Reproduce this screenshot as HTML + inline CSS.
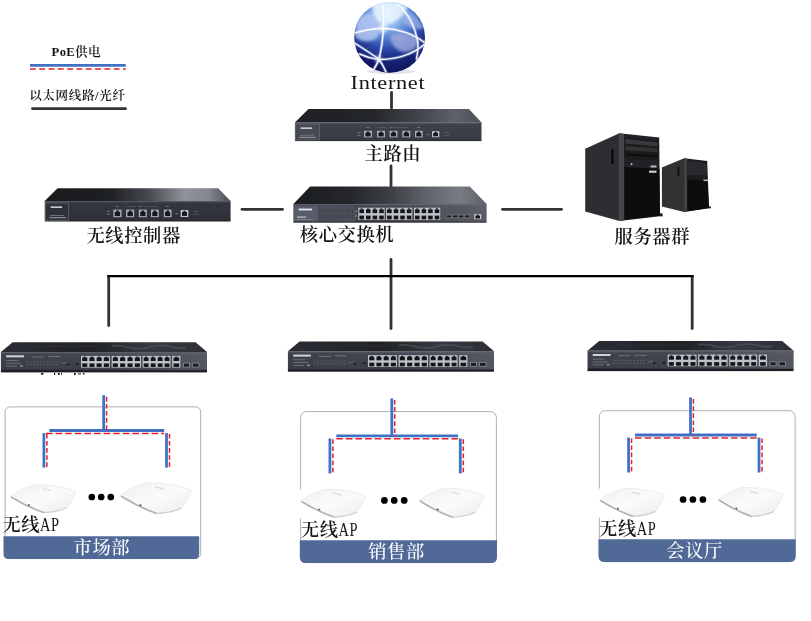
<!DOCTYPE html>
<html lang="zh-CN">
<head>
<meta charset="utf-8">
<title>无线网络拓扑图</title>
<style>
html,body{margin:0;padding:0;background:#fff;}
body{width:811px;height:621px;overflow:hidden;position:relative;}
svg{position:absolute;left:0;top:0;display:block;will-change:transform;}
text{font-family:"Liberation Serif","Noto Serif CJK SC",serif;fill:#141414;}
.cjk{font-size:18.3px;letter-spacing:0.6px;font-weight:600;}
.ap{font-size:18px;letter-spacing:0.8px;}
.w{fill:#fff;font-weight:500;}
</style>
</head>
<body>
<svg width="811" height="621" viewBox="0 0 811 621">
<defs>
  <filter id="soft" x="-5%" y="-20%" width="110%" height="140%"><feGaussianBlur stdDeviation="0.45"/></filter>
  <filter id="soft2" x="-5%" y="-5%" width="110%" height="110%"><feGaussianBlur stdDeviation="0.6"/></filter>
  <linearGradient id="gTopR" x1="0" y1="0" x2="1" y2="0">
    <stop offset="0" stop-color="#1f2024"/><stop offset="0.42" stop-color="#25272b"/><stop offset="0.68" stop-color="#44474e"/><stop offset="0.86" stop-color="#5e6169"/><stop offset="1" stop-color="#4c4f56"/>
  </linearGradient>
  <linearGradient id="gTopC" x1="0" y1="0" x2="1" y2="0">
    <stop offset="0" stop-color="#18191c"/><stop offset="0.35" stop-color="#202125"/><stop offset="0.55" stop-color="#44464c"/><stop offset="0.75" stop-color="#8e9197"/><stop offset="0.88" stop-color="#84878e"/><stop offset="1" stop-color="#4a4d54"/>
  </linearGradient>
  <linearGradient id="gTopS" x1="0" y1="0" x2="1" y2="0">
    <stop offset="0" stop-color="#1b1c20"/><stop offset="0.3" stop-color="#26282c"/><stop offset="0.52" stop-color="#404248"/><stop offset="0.7" stop-color="#62656c"/><stop offset="0.86" stop-color="#787b82"/><stop offset="1" stop-color="#5e6168"/>
  </linearGradient>
  <linearGradient id="gTopA" x1="0" y1="0" x2="1" y2="0">
    <stop offset="0" stop-color="#2b2d33"/><stop offset="0.45" stop-color="#212327"/><stop offset="0.72" stop-color="#363940"/><stop offset="1" stop-color="#2c2e34"/>
  </linearGradient>
  <linearGradient id="gFrontR" x1="0" y1="0" x2="0" y2="1">
    <stop offset="0" stop-color="#474b54"/><stop offset="0.15" stop-color="#3d4049"/><stop offset="0.9" stop-color="#393c45"/><stop offset="1" stop-color="#26272c"/>
  </linearGradient>
  <linearGradient id="gFrontC" x1="0" y1="0" x2="0" y2="1">
    <stop offset="0" stop-color="#41444c"/><stop offset="0.15" stop-color="#33363d"/><stop offset="0.9" stop-color="#2e3138"/><stop offset="1" stop-color="#1f2024"/>
  </linearGradient>
  <linearGradient id="gFrontA" x1="0" y1="0" x2="0" y2="1">
    <stop offset="0" stop-color="#4b4f5a"/><stop offset="0.15" stop-color="#3d414b"/><stop offset="0.84" stop-color="#383c46"/><stop offset="0.92" stop-color="#1b1c20"/><stop offset="1" stop-color="#1b1c20"/>
  </linearGradient>
  <linearGradient id="gShine" x1="0" y1="0" x2="1" y2="0">
    <stop offset="0" stop-color="#fff" stop-opacity="0"/><stop offset="0.5" stop-color="#fff" stop-opacity="0.03"/><stop offset="1" stop-color="#fff" stop-opacity="0.13"/>
  </linearGradient>
  <linearGradient id="gShine2" x1="0" y1="0" x2="1" y2="0">
    <stop offset="0" stop-color="#fff" stop-opacity="0"/><stop offset="0.55" stop-color="#fff" stop-opacity="0.04"/><stop offset="1" stop-color="#fff" stop-opacity="0.17"/>
  </linearGradient>
  <radialGradient id="gGlobe" cx="0.47" cy="0.16" r="0.9">
    <stop offset="0" stop-color="#e6f3ff"/><stop offset="0.16" stop-color="#a4c8f6"/><stop offset="0.36" stop-color="#5b86d6"/><stop offset="0.56" stop-color="#2b49a8"/><stop offset="0.74" stop-color="#17247a"/><stop offset="1" stop-color="#0c1150"/>
  </radialGradient>
  <clipPath id="cGlobe"><circle cx="389.6" cy="37.4" r="35.4"/></clipPath>
  <filter id="soft3" x="-20%" y="-20%" width="140%" height="140%"><feGaussianBlur stdDeviation="1.6"/></filter>
  <linearGradient id="gAP" x1="0" y1="0" x2="1" y2="1">
    <stop offset="0" stop-color="#f0f0f0"/><stop offset="0.5" stop-color="#fbfbfb"/><stop offset="1" stop-color="#ebebeb"/>
  </linearGradient>
  <g id="ap">
    <path d="M1,12.5 C6,8 17,2.5 25,1 C38,0 56,3.5 66,7.5 C64,13 60,20 57,23.5 C50,26.5 40,28.5 34,28.5 C22,24 8,17 1,12.5 Z" fill="url(#gAP)" stroke="#e9e9e9" stroke-width="0.8"/>
    <path d="M2,13.2 C9,17.5 22,24.5 34,28.6" stroke="#b2b2b2" stroke-width="1.6" fill="none" stroke-linecap="round"/>
    <path d="M34,28.6 C42,28.4 50,27 57,23.8" stroke="#d0d0d0" stroke-width="1.2" fill="none"/>
    <rect x="18.2" y="20.2" width="2" height="1.4" fill="#555" transform="rotate(28 19 21)"/>
    <path d="M33,4.5 L41,6.5" stroke="#dadada" stroke-width="1.2"/>
  </g>
</defs>
<rect x="0" y="0" width="811" height="621" fill="#fff"/>

<!-- legend -->
<text x="51.6" y="56" font-size="12.6" letter-spacing="0.35" font-weight="600"><tspan font-weight="bold">PoE</tspan>供电</text>
<path d="M30,65.4 H125.8" stroke="#4171c4" stroke-width="2.8"/>
<path d="M30,69.1 H125.8" stroke="#e3202b" stroke-width="1.5" stroke-dasharray="5.8 3.5"/>
<text x="29.2" y="100" font-size="12.5" letter-spacing="0.68" font-weight="600">以太网线路/光纤</text>
<path d="M32.5,108.7 H125.5" stroke="#333" stroke-width="2.8" stroke-linecap="round"/>

<!-- internet globe -->
<g>
  <ellipse cx="391" cy="71.5" rx="24" ry="2.6" fill="#cfd3e2" opacity="0.6"/>
  <circle cx="389.6" cy="37.4" r="35.4" fill="url(#gGlobe)"/>
  <g clip-path="url(#cGlobe)">
    <g filter="url(#soft3)">
      <path d="M356,22 C361,13 372,11 380,15 C383,22 382,31 377,38 C370,43 361,42 355,37 Z" fill="#b4c8f2" opacity="0.85"/>
      <path d="M390,36 C397,31 410,33 418,38 C420,45 414,52 405,52 C398,52 391,46 390,36 Z" fill="#a3addd" opacity="0.8"/>
      <path d="M402,12 C410,10 420,18 424,28 C418,31 408,28 403,22 Z" fill="#9fb9ec" opacity="0.7"/>
      <path d="M372,3 C380,0 398,0 408,6 C404,16 394,24 384,25 C376,22 372,12 372,3 Z" fill="#e8f4ff" opacity="0.85"/>
      <path d="M352,46 C362,58 380,70 396,74 L352,76 Z" fill="#0e145a" opacity="0.7"/>
      <path d="M396,74 C410,70 420,62 426,50 L428,76 Z" fill="#0e145a" opacity="0.65"/>
    </g>
    <g stroke="#cfe2ff" stroke-width="3.2" fill="none" opacity="0.35" stroke-linecap="round">
      <path d="M383,5 C384.5,22 383,42 379.4,57.5 C378,62 376,66 374,69"/>
      <path d="M397,4 C407,12 415,26 417.9,42.8 C418.5,50 417.5,54 416.5,59"/>
      <path d="M354,33.2 C364,30 374,28.4 383,28.2 C398,28.6 414,34 425,43"/>
      <path d="M354,42.5 C362,48 372,54 378.2,58.8 C381,62 384,67 386,72"/>
      <path d="M359.5,54 C366,57 372,58.6 378.2,59.4 C396,60 414,54 424.7,44"/>
    </g>
    <g stroke="#ffffff" stroke-width="1.4" fill="none" opacity="0.95" stroke-linecap="round">
      <path d="M383,5 C384.5,22 383,42 379.4,57.5 C378,62 376,66 374,69"/>
      <path d="M397,4 C407,12 415,26 417.9,42.8 C418.5,50 417.5,54 416.5,59"/>
      <path d="M354,33.2 C364,30 374,28.4 383,28.2 C398,28.6 414,34 425,43"/>
      <path d="M354,42.5 C362,48 372,54 378.2,58.8 C381,62 384,67 386,72"/>
      <path d="M359.5,54 C366,57 372,58.6 378.2,59.4 C396,60 414,54 424.7,44"/>
    </g>
    <circle cx="383.4" cy="28.2" r="4.5" fill="#fff" opacity="0.55" filter="url(#soft3)"/>
    <circle cx="378.4" cy="59" r="3.5" fill="#fff" opacity="0.5" filter="url(#soft3)"/>
  </g>
</g>
<text transform="translate(350.6,88.6) scale(1.2,1)" font-size="18.6" letter-spacing="0.55">Internet</text>

<!-- backbone links -->
<g stroke="#333" stroke-width="2.8" fill="none" stroke-linecap="round">
  <path d="M391.5,92.5 V108"/>
  <path d="M391,166 V186"/>
  <path d="M391,259.5 V328.5"/>
  <path d="M242,209.3 H282.5"/>
  <path d="M502.5,209.3 H561.5"/>
  <path d="M108.7,277 V325.5"/>
  <path d="M692.2,277 V328.5"/>
</g>
<path d="M107.2,276.2 H693.7" stroke="#000" stroke-width="2.2" fill="none"/>

<!-- main router -->
<g filter="url(#soft)"><polygon points="308.5,108.9 468.9,108.9 481.5,122.5 294.9,122.5" fill="url(#gTopR)" /><rect x="294.9" y="122.5" width="186.6" height="18.6" fill="url(#gFrontR)" /><rect x="294.9" y="122.5" width="186.6" height="1.0" fill="#5a5e67" opacity="0.8"/><rect x="295.6" y="124.0" width="24.0" height="16.0" fill="#454851" stroke="#73767e" stroke-width="0.6"/><rect x="300.6" y="127.4" width="11.5" height="1.5" fill="#d5d7dc" /><rect x="300.1" y="134.8" width="14.0" height="1.0" fill="#6f727a" /><rect x="299.1" y="136.8" width="17.0" height="1.2" fill="#8a8d95" /><rect x="364.0" y="130.8" width="8.0" height="6.6" fill="#a9adb5" /><rect x="365.4" y="132.8" width="5.3" height="3.6" fill="#17181b" /><rect x="366.7" y="131.6" width="2.6" height="1.6" fill="#17181b" /><rect x="377.0" y="130.8" width="8.0" height="6.6" fill="#a9adb5" /><rect x="378.4" y="132.8" width="5.3" height="3.6" fill="#17181b" /><rect x="379.7" y="131.6" width="2.6" height="1.6" fill="#17181b" /><rect x="389.6" y="130.8" width="7.8" height="6.6" fill="#a9adb5" /><rect x="390.9" y="132.8" width="5.1" height="3.6" fill="#17181b" /><rect x="392.3" y="131.6" width="2.5" height="1.6" fill="#17181b" /><rect x="402.3" y="130.8" width="8.0" height="6.6" fill="#a9adb5" /><rect x="403.7" y="132.8" width="5.3" height="3.6" fill="#17181b" /><rect x="405.0" y="131.6" width="2.6" height="1.6" fill="#17181b" /><rect x="415.0" y="130.8" width="7.6" height="6.6" fill="#a9adb5" /><rect x="416.3" y="132.8" width="5.0" height="3.6" fill="#17181b" /><rect x="417.6" y="131.6" width="2.4" height="1.6" fill="#17181b" /><rect x="366.0" y="127.2" width="3.4" height="0.7" fill="#7c808a" /><rect x="377.5" y="127.2" width="9.0" height="0.6" fill="#62666f" /><rect x="389.6" y="127.2" width="3.4" height="0.7" fill="#7c808a" /><rect x="394.6" y="127.2" width="14.0" height="0.6" fill="#62666f" /><rect x="417.0" y="127.2" width="3.0" height="0.7" fill="#7c808a" /><rect x="357.5" y="132.0" width="3.0" height="0.9" fill="#7d8089" /><rect x="357.5" y="134.8" width="3.0" height="0.9" fill="#7d8089" /><rect x="426.5" y="133.9" width="2.6" height="0.9" fill="#7d8089" /><rect x="432.0" y="131.2" width="7.3" height="6.0" fill="#c3c6cc" /><rect x="433.2" y="133.0" width="4.8" height="3.3" fill="#17181b" /><rect x="434.5" y="131.9" width="2.3" height="1.5" fill="#17181b" /><rect x="443.8" y="132.4" width="6.0" height="0.7" fill="#5d6068" /><rect x="443.8" y="135.0" width="6.0" height="0.7" fill="#5d6068" /></g>
<text class="cjk" x="364.6" y="160.2">主路由</text>

<!-- wireless controller -->
<g filter="url(#soft)"><polygon points="57.6,188.2 218.2,188.2 230.6,201.0 44.7,201.0" fill="url(#gTopC)" /><rect x="44.7" y="201.0" width="185.9" height="20.5" fill="url(#gFrontC)" /><rect x="44.7" y="201.0" width="185.9" height="1.0" fill="#5a5e67" opacity="0.8"/><rect x="45.6" y="203.0" width="22.7" height="17.2" fill="#2f3239" stroke="#73767e" stroke-width="0.6"/><rect x="50.6" y="206.4" width="11.5" height="1.5" fill="#d5d7dc" /><rect x="50.1" y="215.0" width="14.0" height="1.0" fill="#6f727a" /><rect x="49.1" y="217.0" width="17.0" height="1.2" fill="#8a8d95" /><rect x="113.4" y="209.6" width="8.1" height="7.6" fill="#a9adb5" /><rect x="114.8" y="211.9" width="5.3" height="4.2" fill="#17181b" /><rect x="116.2" y="210.5" width="2.6" height="1.9" fill="#17181b" /><rect x="126.1" y="209.6" width="8.1" height="7.6" fill="#a9adb5" /><rect x="127.5" y="211.9" width="5.3" height="4.2" fill="#17181b" /><rect x="128.9" y="210.5" width="2.6" height="1.9" fill="#17181b" /><rect x="138.8" y="209.6" width="8.1" height="7.6" fill="#a9adb5" /><rect x="140.2" y="211.9" width="5.3" height="4.2" fill="#17181b" /><rect x="141.6" y="210.5" width="2.6" height="1.9" fill="#17181b" /><rect x="151.0" y="209.6" width="7.8" height="7.6" fill="#a9adb5" /><rect x="152.3" y="211.9" width="5.1" height="4.2" fill="#17181b" /><rect x="153.7" y="210.5" width="2.5" height="1.9" fill="#17181b" /><rect x="163.8" y="209.6" width="7.8" height="7.6" fill="#a9adb5" /><rect x="165.1" y="211.9" width="5.1" height="4.2" fill="#17181b" /><rect x="166.5" y="210.5" width="2.5" height="1.9" fill="#17181b" /><rect x="115.4" y="206.0" width="3.4" height="0.7" fill="#7c808a" /><rect x="126.6" y="206.0" width="9.0" height="0.6" fill="#62666f" /><rect x="138.8" y="206.0" width="3.4" height="0.7" fill="#7c808a" /><rect x="143.8" y="206.0" width="14.0" height="0.6" fill="#62666f" /><rect x="165.8" y="206.0" width="3.0" height="0.7" fill="#7c808a" /><rect x="106.9" y="210.8" width="3.0" height="0.9" fill="#7d8089" /><rect x="106.9" y="213.6" width="3.0" height="0.9" fill="#7d8089" /><rect x="175.2" y="213.2" width="2.6" height="0.9" fill="#7d8089" /><rect x="180.7" y="210.0" width="7.6" height="7.0" fill="#c3c6cc" /><rect x="182.0" y="212.1" width="5.0" height="3.8" fill="#17181b" /><rect x="183.3" y="210.8" width="2.4" height="1.7" fill="#17181b" /><rect x="192.8" y="211.2" width="6.0" height="0.7" fill="#5d6068" /><rect x="192.8" y="213.8" width="6.0" height="0.7" fill="#5d6068" /></g>
<text class="cjk" x="86.4" y="242.4">无线控制器</text>

<!-- core switch -->
<g filter="url(#soft)"><polygon points="310.1,186.5 469.8,186.5 486.6,204.0 293.4,204.0" fill="url(#gTopS)" /><rect x="293.4" y="204.0" width="193.2" height="18.7" fill="url(#gFrontR)" /><rect x="293.4" y="204.0" width="193.2" height="17.6" fill="url(#gShine2)" /><rect x="293.4" y="204.0" width="193.2" height="1.0" fill="#636771" opacity="0.9"/><rect x="294.0" y="205.8" width="24.2" height="15.6" fill="#565b67" /><rect x="298.6" y="208.6" width="13.5" height="1.8" fill="#e6e8ec" /><rect x="297.0" y="216.4" width="9.0" height="1.4" fill="#b3b7bf" /><rect x="297.0" y="219.0" width="16.0" height="0.9" fill="#7d818a" /><rect x="318.9" y="205.8" width="36.7" height="15.6" fill="#4c505a" /><rect x="321.0" y="209.0" width="1.5" height="4.2" fill="#424650" /><rect x="321.0" y="215.0" width="1.5" height="4.2" fill="#424650" /><rect x="324.1" y="209.0" width="1.5" height="4.2" fill="#424650" /><rect x="324.1" y="215.0" width="1.5" height="4.2" fill="#424650" /><rect x="327.2" y="209.0" width="1.5" height="4.2" fill="#424650" /><rect x="327.2" y="215.0" width="1.5" height="4.2" fill="#424650" /><rect x="330.3" y="209.0" width="1.5" height="4.2" fill="#424650" /><rect x="330.3" y="215.0" width="1.5" height="4.2" fill="#424650" /><rect x="333.4" y="209.0" width="1.5" height="4.2" fill="#424650" /><rect x="333.4" y="215.0" width="1.5" height="4.2" fill="#424650" /><rect x="336.5" y="209.0" width="1.5" height="4.2" fill="#424650" /><rect x="336.5" y="215.0" width="1.5" height="4.2" fill="#424650" /><rect x="339.6" y="209.0" width="1.5" height="4.2" fill="#424650" /><rect x="339.6" y="215.0" width="1.5" height="4.2" fill="#424650" /><rect x="342.7" y="209.0" width="1.5" height="4.2" fill="#424650" /><rect x="342.7" y="215.0" width="1.5" height="4.2" fill="#424650" /><rect x="345.8" y="209.0" width="1.5" height="4.2" fill="#424650" /><rect x="345.8" y="215.0" width="1.5" height="4.2" fill="#424650" /><rect x="348.9" y="209.0" width="1.5" height="4.2" fill="#424650" /><rect x="348.9" y="215.0" width="1.5" height="4.2" fill="#424650" /><rect x="352.0" y="209.0" width="1.5" height="4.2" fill="#424650" /><rect x="352.0" y="215.0" width="1.5" height="4.2" fill="#424650" /><rect x="355.2" y="210.6" width="1.6" height="1.1" fill="#a8acb4" /><rect x="355.2" y="215.4" width="1.6" height="1.1" fill="#a8acb4" /><rect x="358.3" y="207.7" width="26.4" height="12.3" fill="#bfc3c9" /><rect x="359.4" y="209.4" width="4.6" height="3.7" fill="#16171a" /><rect x="360.5" y="208.4" width="2.1" height="1.2" fill="#16171a" /><rect x="359.4" y="215.6" width="4.6" height="3.7" fill="#16171a" /><rect x="360.5" y="218.0" width="2.1" height="1.2" fill="#16171a" /><rect x="366.0" y="209.4" width="4.6" height="3.7" fill="#16171a" /><rect x="367.1" y="208.4" width="2.1" height="1.2" fill="#16171a" /><rect x="366.0" y="215.6" width="4.6" height="3.7" fill="#16171a" /><rect x="367.1" y="218.0" width="2.1" height="1.2" fill="#16171a" /><rect x="372.6" y="209.4" width="4.6" height="3.7" fill="#16171a" /><rect x="373.7" y="208.4" width="2.1" height="1.2" fill="#16171a" /><rect x="372.6" y="215.6" width="4.6" height="3.7" fill="#16171a" /><rect x="373.7" y="218.0" width="2.1" height="1.2" fill="#16171a" /><rect x="379.2" y="209.4" width="4.6" height="3.7" fill="#16171a" /><rect x="380.3" y="208.4" width="2.1" height="1.2" fill="#16171a" /><rect x="379.2" y="215.6" width="4.6" height="3.7" fill="#16171a" /><rect x="380.3" y="218.0" width="2.1" height="1.2" fill="#16171a" /><rect x="386.1" y="207.7" width="26.2" height="12.3" fill="#bfc3c9" /><rect x="387.1" y="209.4" width="4.6" height="3.7" fill="#16171a" /><rect x="388.3" y="208.4" width="2.1" height="1.2" fill="#16171a" /><rect x="387.1" y="215.6" width="4.6" height="3.7" fill="#16171a" /><rect x="388.3" y="218.0" width="2.1" height="1.2" fill="#16171a" /><rect x="393.7" y="209.4" width="4.6" height="3.7" fill="#16171a" /><rect x="394.9" y="208.4" width="2.1" height="1.2" fill="#16171a" /><rect x="393.7" y="215.6" width="4.6" height="3.7" fill="#16171a" /><rect x="394.9" y="218.0" width="2.1" height="1.2" fill="#16171a" /><rect x="400.2" y="209.4" width="4.6" height="3.7" fill="#16171a" /><rect x="401.4" y="208.4" width="2.1" height="1.2" fill="#16171a" /><rect x="400.2" y="215.6" width="4.6" height="3.7" fill="#16171a" /><rect x="401.4" y="218.0" width="2.1" height="1.2" fill="#16171a" /><rect x="406.8" y="209.4" width="4.6" height="3.7" fill="#16171a" /><rect x="408.0" y="208.4" width="2.1" height="1.2" fill="#16171a" /><rect x="406.8" y="215.6" width="4.6" height="3.7" fill="#16171a" /><rect x="408.0" y="218.0" width="2.1" height="1.2" fill="#16171a" /><rect x="414.0" y="207.7" width="26.2" height="12.3" fill="#bfc3c9" /><rect x="415.0" y="209.4" width="4.6" height="3.7" fill="#16171a" /><rect x="416.2" y="208.4" width="2.1" height="1.2" fill="#16171a" /><rect x="415.0" y="215.6" width="4.6" height="3.7" fill="#16171a" /><rect x="416.2" y="218.0" width="2.1" height="1.2" fill="#16171a" /><rect x="421.6" y="209.4" width="4.6" height="3.7" fill="#16171a" /><rect x="422.8" y="208.4" width="2.1" height="1.2" fill="#16171a" /><rect x="421.6" y="215.6" width="4.6" height="3.7" fill="#16171a" /><rect x="422.8" y="218.0" width="2.1" height="1.2" fill="#16171a" /><rect x="428.1" y="209.4" width="4.6" height="3.7" fill="#16171a" /><rect x="429.3" y="208.4" width="2.1" height="1.2" fill="#16171a" /><rect x="428.1" y="215.6" width="4.6" height="3.7" fill="#16171a" /><rect x="429.3" y="218.0" width="2.1" height="1.2" fill="#16171a" /><rect x="434.7" y="209.4" width="4.6" height="3.7" fill="#16171a" /><rect x="435.9" y="208.4" width="2.1" height="1.2" fill="#16171a" /><rect x="434.7" y="215.6" width="4.6" height="3.7" fill="#16171a" /><rect x="435.9" y="218.0" width="2.1" height="1.2" fill="#16171a" /><rect x="446.0" y="214.6" width="24.4" height="3.6" fill="#787c85" /><rect x="446.8" y="215.4" width="4.6" height="2.0" fill="#1c1d21" /><rect x="452.8" y="215.4" width="4.6" height="2.0" fill="#1c1d21" /><rect x="458.8" y="215.4" width="4.6" height="2.0" fill="#1c1d21" /><rect x="464.8" y="215.4" width="4.6" height="2.0" fill="#1c1d21" /><rect x="474.2" y="214.2" width="7.0" height="5.0" fill="#c6c9cf" /><rect x="475.4" y="215.7" width="4.6" height="2.8" fill="#17181b" /><rect x="476.6" y="214.8" width="2.2" height="1.2" fill="#17181b" /></g>
<text class="cjk" x="299.8" y="240.8">核心交换机</text>

<!-- servers -->
<g filter="url(#soft)">
  <polygon points="585.2,148.8 619.4,133.3 619.4,221 585.2,211.6" fill="#2f2f31"/>
  <polygon points="619.4,133.3 659.2,137.6 660,216.2 619.4,221" fill="#242426"/>
  <polygon points="619.4,133.3 624,133.9 624,220.4 619.4,221" fill="#444446"/>
  <polygon points="624.5,136.5 658.6,140.5 658.8,160.5 624.5,159.2" fill="#1a1a1c"/>
  <polygon points="625.5,139 657.6,142.6 657.6,146.4 625.5,143.4" fill="#39393c"/>
  <polygon points="625.5,146 657.6,148.6 657.6,152.2 625.5,150.2" fill="#323235"/>
  <polygon points="625.5,153.4 657.6,155.2 657.6,156.8 625.5,155.4" fill="#0b0b0c"/>
  <polygon points="624.5,167 659.4,168.8 660,215.6 624.5,219.8" fill="#0e0e10"/>
  <rect x="650.5" y="165.5" width="6" height="2" fill="#b7bac2"/>
  <rect x="649" y="170.6" width="7.5" height="2.2" fill="#c9ccd3"/>
  <rect x="611" y="149" width="2.6" height="15" rx="1.2" fill="#0a0a0b"/>
  <circle cx="631.6" cy="164.2" r="0.9" fill="#d7dae0"/>
  <rect x="660" y="213.4" width="2.6" height="3" fill="#1a1a1c"/>
  <polygon points="661.9,167.5 684.1,158.3 684.1,211.9 661.9,206.4" fill="#303032"/>
  <polygon points="684.1,158.3 707.2,161 709,208.2 684.1,211.9" fill="#1c1c1e"/>
  <polygon points="684.1,158.3 687,158.7 687,211.5 684.1,211.9" fill="#434346"/>
  <polygon points="687.5,161 706.6,163.3 706.9,175.5 687.5,174.8" fill="#2c2c2f"/>
  <polygon points="687.5,179.5 707.4,180.4 709,208 687.5,211.2" fill="#0d0d0f"/>
  <rect x="677.6" y="167" width="1.6" height="9.6" rx="0.8" fill="#0a0a0b"/>
  <rect x="703.5" y="179.5" width="4.5" height="1.6" fill="#b7bac2"/>
  <rect x="709" y="206.4" width="1.8" height="2" fill="#1a1a1c"/>
</g>
<text class="cjk" x="614.6" y="243.4">服务器群</text>

<!-- access switches -->
<g filter="url(#soft)"><g transform="translate(0.0,0.0)"><polygon points="12.6,342.2 195.6,342.2 207.0,352.0 0.9,352.0" fill="url(#gTopA)" /><path d="M112,346 C124,344 130,350 142,348.5 S154,344.5 164,345.5 S176,349.5 186,347.5" stroke="#4d5058" stroke-width="1.8" fill="none" opacity="0.75"/><path d="M30,346.5 H100" stroke="#33363c" stroke-width="1.2" opacity="0.6"/><rect x="0.9" y="352.0" width="206.1" height="20.4" fill="url(#gFrontA)" /><rect x="0.9" y="352.0" width="206.1" height="18.4" fill="url(#gShine)" /><rect x="0.9" y="352.0" width="206.1" height="1.0" fill="#5d616b" opacity="0.9"/><rect x="6.1" y="355.3" width="17.8" height="2.0" fill="#cfd2d8" /><rect x="6.1" y="360.0" width="12.0" height="0.9" fill="#70747d" /><rect x="6.1" y="362.8" width="15.0" height="0.9" fill="#70747d" /><rect x="6.1" y="365.6" width="11.0" height="0.9" fill="#70747d" /><rect x="20.0" y="365.4" width="3.0" height="1.2" fill="#9a9ea6" /><rect x="32.0" y="356.6" width="12.0" height="0.8" fill="#7a7e87" /><rect x="48.0" y="356.2" width="12.0" height="0.8" fill="#7a7e87" /><rect x="26.0" y="360.2" width="34.0" height="6.2" fill="#3f434c" /><rect x="27.0" y="361.2" width="1.6" height="1.2" fill="#565a63" /><rect x="27.0" y="364.0" width="1.6" height="1.2" fill="#565a63" /><rect x="30.3" y="361.2" width="1.6" height="1.2" fill="#565a63" /><rect x="30.3" y="364.0" width="1.6" height="1.2" fill="#565a63" /><rect x="33.6" y="361.2" width="1.6" height="1.2" fill="#565a63" /><rect x="33.6" y="364.0" width="1.6" height="1.2" fill="#565a63" /><rect x="36.9" y="361.2" width="1.6" height="1.2" fill="#565a63" /><rect x="36.9" y="364.0" width="1.6" height="1.2" fill="#565a63" /><rect x="40.2" y="361.2" width="1.6" height="1.2" fill="#565a63" /><rect x="40.2" y="364.0" width="1.6" height="1.2" fill="#565a63" /><rect x="43.5" y="361.2" width="1.6" height="1.2" fill="#565a63" /><rect x="43.5" y="364.0" width="1.6" height="1.2" fill="#565a63" /><rect x="46.8" y="361.2" width="1.6" height="1.2" fill="#565a63" /><rect x="46.8" y="364.0" width="1.6" height="1.2" fill="#565a63" /><rect x="50.1" y="361.2" width="1.6" height="1.2" fill="#565a63" /><rect x="50.1" y="364.0" width="1.6" height="1.2" fill="#565a63" /><rect x="53.4" y="361.2" width="1.6" height="1.2" fill="#565a63" /><rect x="53.4" y="364.0" width="1.6" height="1.2" fill="#565a63" /><rect x="56.7" y="361.2" width="1.6" height="1.2" fill="#565a63" /><rect x="56.7" y="364.0" width="1.6" height="1.2" fill="#565a63" /><rect x="61.0" y="362.0" width="7.0" height="2.2" fill="#4f535c" /><rect x="66.5" y="363.6" width="2.2" height="1.6" fill="#0e0f11" /><rect x="76.3" y="363.2" width="2.2" height="1.6" fill="#0e0f11" /><rect x="81.0" y="355.9" width="28.9" height="11.7" fill="#bfc3c9" /><rect x="82.2" y="357.5" width="5.1" height="3.5" fill="#16171a" /><rect x="83.5" y="356.6" width="2.3" height="1.2" fill="#16171a" /><rect x="82.2" y="363.4" width="5.1" height="3.5" fill="#16171a" /><rect x="83.5" y="365.7" width="2.3" height="1.2" fill="#16171a" /><rect x="89.4" y="357.5" width="5.1" height="3.5" fill="#16171a" /><rect x="90.7" y="356.6" width="2.3" height="1.2" fill="#16171a" /><rect x="89.4" y="363.4" width="5.1" height="3.5" fill="#16171a" /><rect x="90.7" y="365.7" width="2.3" height="1.2" fill="#16171a" /><rect x="96.6" y="357.5" width="5.1" height="3.5" fill="#16171a" /><rect x="97.9" y="356.6" width="2.3" height="1.2" fill="#16171a" /><rect x="96.6" y="363.4" width="5.1" height="3.5" fill="#16171a" /><rect x="97.9" y="365.7" width="2.3" height="1.2" fill="#16171a" /><rect x="103.8" y="357.5" width="5.1" height="3.5" fill="#16171a" /><rect x="105.1" y="356.6" width="2.3" height="1.2" fill="#16171a" /><rect x="103.8" y="363.4" width="5.1" height="3.5" fill="#16171a" /><rect x="105.1" y="365.7" width="2.3" height="1.2" fill="#16171a" /><rect x="111.6" y="355.9" width="29.4" height="11.7" fill="#bfc3c9" /><rect x="112.8" y="357.5" width="5.1" height="3.5" fill="#16171a" /><rect x="114.1" y="356.6" width="2.4" height="1.2" fill="#16171a" /><rect x="112.8" y="363.4" width="5.1" height="3.5" fill="#16171a" /><rect x="114.1" y="365.7" width="2.4" height="1.2" fill="#16171a" /><rect x="120.1" y="357.5" width="5.1" height="3.5" fill="#16171a" /><rect x="121.4" y="356.6" width="2.4" height="1.2" fill="#16171a" /><rect x="120.1" y="363.4" width="5.1" height="3.5" fill="#16171a" /><rect x="121.4" y="365.7" width="2.4" height="1.2" fill="#16171a" /><rect x="127.5" y="357.5" width="5.1" height="3.5" fill="#16171a" /><rect x="128.8" y="356.6" width="2.4" height="1.2" fill="#16171a" /><rect x="127.5" y="363.4" width="5.1" height="3.5" fill="#16171a" /><rect x="128.8" y="365.7" width="2.4" height="1.2" fill="#16171a" /><rect x="134.8" y="357.5" width="5.1" height="3.5" fill="#16171a" /><rect x="136.1" y="356.6" width="2.4" height="1.2" fill="#16171a" /><rect x="134.8" y="363.4" width="5.1" height="3.5" fill="#16171a" /><rect x="136.1" y="365.7" width="2.4" height="1.2" fill="#16171a" /><rect x="142.6" y="355.9" width="27.9" height="11.7" fill="#bfc3c9" /><rect x="143.7" y="357.5" width="4.9" height="3.5" fill="#16171a" /><rect x="145.0" y="356.6" width="2.2" height="1.2" fill="#16171a" /><rect x="143.7" y="363.4" width="4.9" height="3.5" fill="#16171a" /><rect x="145.0" y="365.7" width="2.2" height="1.2" fill="#16171a" /><rect x="150.7" y="357.5" width="4.9" height="3.5" fill="#16171a" /><rect x="151.9" y="356.6" width="2.2" height="1.2" fill="#16171a" /><rect x="150.7" y="363.4" width="4.9" height="3.5" fill="#16171a" /><rect x="151.9" y="365.7" width="2.2" height="1.2" fill="#16171a" /><rect x="157.7" y="357.5" width="4.9" height="3.5" fill="#16171a" /><rect x="158.9" y="356.6" width="2.2" height="1.2" fill="#16171a" /><rect x="157.7" y="363.4" width="4.9" height="3.5" fill="#16171a" /><rect x="158.9" y="365.7" width="2.2" height="1.2" fill="#16171a" /><rect x="164.6" y="357.5" width="4.9" height="3.5" fill="#16171a" /><rect x="165.9" y="356.6" width="2.2" height="1.2" fill="#16171a" /><rect x="164.6" y="363.4" width="4.9" height="3.5" fill="#16171a" /><rect x="165.9" y="365.7" width="2.2" height="1.2" fill="#16171a" /><rect x="172.2" y="355.9" width="8.2" height="11.7" fill="#bfc3c9" /><rect x="173.5" y="357.5" width="5.7" height="3.5" fill="#16171a" /><rect x="175.0" y="356.6" width="2.6" height="1.2" fill="#16171a" /><rect x="173.5" y="363.4" width="5.7" height="3.5" fill="#16171a" /><rect x="175.0" y="365.7" width="2.6" height="1.2" fill="#16171a" /><rect x="183.0" y="362.6" width="7.0" height="4.9" fill="#7d818a" /><rect x="184.0" y="363.6" width="5.0" height="3.0" fill="#1b1c20" /><rect x="191.9" y="362.6" width="7.6" height="4.9" fill="#7d818a" /><rect x="192.9" y="363.6" width="5.6" height="3.0" fill="#1b1c20" /></g><g transform="translate(287.0,-0.7)"><polygon points="12.6,342.2 195.6,342.2 207.0,352.0 0.9,352.0" fill="url(#gTopA)" /><path d="M112,346 C124,344 130,350 142,348.5 S154,344.5 164,345.5 S176,349.5 186,347.5" stroke="#4d5058" stroke-width="1.8" fill="none" opacity="0.75"/><path d="M30,346.5 H100" stroke="#33363c" stroke-width="1.2" opacity="0.6"/><rect x="0.9" y="352.0" width="206.1" height="20.4" fill="url(#gFrontA)" /><rect x="0.9" y="352.0" width="206.1" height="18.4" fill="url(#gShine)" /><rect x="0.9" y="352.0" width="206.1" height="1.0" fill="#5d616b" opacity="0.9"/><rect x="6.1" y="355.3" width="17.8" height="2.0" fill="#cfd2d8" /><rect x="6.1" y="360.0" width="12.0" height="0.9" fill="#70747d" /><rect x="6.1" y="362.8" width="15.0" height="0.9" fill="#70747d" /><rect x="6.1" y="365.6" width="11.0" height="0.9" fill="#70747d" /><rect x="20.0" y="365.4" width="3.0" height="1.2" fill="#9a9ea6" /><rect x="32.0" y="356.6" width="12.0" height="0.8" fill="#7a7e87" /><rect x="48.0" y="356.2" width="12.0" height="0.8" fill="#7a7e87" /><rect x="26.0" y="360.2" width="34.0" height="6.2" fill="#3f434c" /><rect x="27.0" y="361.2" width="1.6" height="1.2" fill="#565a63" /><rect x="27.0" y="364.0" width="1.6" height="1.2" fill="#565a63" /><rect x="30.3" y="361.2" width="1.6" height="1.2" fill="#565a63" /><rect x="30.3" y="364.0" width="1.6" height="1.2" fill="#565a63" /><rect x="33.6" y="361.2" width="1.6" height="1.2" fill="#565a63" /><rect x="33.6" y="364.0" width="1.6" height="1.2" fill="#565a63" /><rect x="36.9" y="361.2" width="1.6" height="1.2" fill="#565a63" /><rect x="36.9" y="364.0" width="1.6" height="1.2" fill="#565a63" /><rect x="40.2" y="361.2" width="1.6" height="1.2" fill="#565a63" /><rect x="40.2" y="364.0" width="1.6" height="1.2" fill="#565a63" /><rect x="43.5" y="361.2" width="1.6" height="1.2" fill="#565a63" /><rect x="43.5" y="364.0" width="1.6" height="1.2" fill="#565a63" /><rect x="46.8" y="361.2" width="1.6" height="1.2" fill="#565a63" /><rect x="46.8" y="364.0" width="1.6" height="1.2" fill="#565a63" /><rect x="50.1" y="361.2" width="1.6" height="1.2" fill="#565a63" /><rect x="50.1" y="364.0" width="1.6" height="1.2" fill="#565a63" /><rect x="53.4" y="361.2" width="1.6" height="1.2" fill="#565a63" /><rect x="53.4" y="364.0" width="1.6" height="1.2" fill="#565a63" /><rect x="56.7" y="361.2" width="1.6" height="1.2" fill="#565a63" /><rect x="56.7" y="364.0" width="1.6" height="1.2" fill="#565a63" /><rect x="61.0" y="362.0" width="7.0" height="2.2" fill="#4f535c" /><rect x="66.5" y="363.6" width="2.2" height="1.6" fill="#0e0f11" /><rect x="76.3" y="363.2" width="2.2" height="1.6" fill="#0e0f11" /><rect x="81.0" y="355.9" width="28.9" height="11.7" fill="#bfc3c9" /><rect x="82.2" y="357.5" width="5.1" height="3.5" fill="#16171a" /><rect x="83.5" y="356.6" width="2.3" height="1.2" fill="#16171a" /><rect x="82.2" y="363.4" width="5.1" height="3.5" fill="#16171a" /><rect x="83.5" y="365.7" width="2.3" height="1.2" fill="#16171a" /><rect x="89.4" y="357.5" width="5.1" height="3.5" fill="#16171a" /><rect x="90.7" y="356.6" width="2.3" height="1.2" fill="#16171a" /><rect x="89.4" y="363.4" width="5.1" height="3.5" fill="#16171a" /><rect x="90.7" y="365.7" width="2.3" height="1.2" fill="#16171a" /><rect x="96.6" y="357.5" width="5.1" height="3.5" fill="#16171a" /><rect x="97.9" y="356.6" width="2.3" height="1.2" fill="#16171a" /><rect x="96.6" y="363.4" width="5.1" height="3.5" fill="#16171a" /><rect x="97.9" y="365.7" width="2.3" height="1.2" fill="#16171a" /><rect x="103.8" y="357.5" width="5.1" height="3.5" fill="#16171a" /><rect x="105.1" y="356.6" width="2.3" height="1.2" fill="#16171a" /><rect x="103.8" y="363.4" width="5.1" height="3.5" fill="#16171a" /><rect x="105.1" y="365.7" width="2.3" height="1.2" fill="#16171a" /><rect x="111.6" y="355.9" width="29.4" height="11.7" fill="#bfc3c9" /><rect x="112.8" y="357.5" width="5.1" height="3.5" fill="#16171a" /><rect x="114.1" y="356.6" width="2.4" height="1.2" fill="#16171a" /><rect x="112.8" y="363.4" width="5.1" height="3.5" fill="#16171a" /><rect x="114.1" y="365.7" width="2.4" height="1.2" fill="#16171a" /><rect x="120.1" y="357.5" width="5.1" height="3.5" fill="#16171a" /><rect x="121.4" y="356.6" width="2.4" height="1.2" fill="#16171a" /><rect x="120.1" y="363.4" width="5.1" height="3.5" fill="#16171a" /><rect x="121.4" y="365.7" width="2.4" height="1.2" fill="#16171a" /><rect x="127.5" y="357.5" width="5.1" height="3.5" fill="#16171a" /><rect x="128.8" y="356.6" width="2.4" height="1.2" fill="#16171a" /><rect x="127.5" y="363.4" width="5.1" height="3.5" fill="#16171a" /><rect x="128.8" y="365.7" width="2.4" height="1.2" fill="#16171a" /><rect x="134.8" y="357.5" width="5.1" height="3.5" fill="#16171a" /><rect x="136.1" y="356.6" width="2.4" height="1.2" fill="#16171a" /><rect x="134.8" y="363.4" width="5.1" height="3.5" fill="#16171a" /><rect x="136.1" y="365.7" width="2.4" height="1.2" fill="#16171a" /><rect x="142.6" y="355.9" width="27.9" height="11.7" fill="#bfc3c9" /><rect x="143.7" y="357.5" width="4.9" height="3.5" fill="#16171a" /><rect x="145.0" y="356.6" width="2.2" height="1.2" fill="#16171a" /><rect x="143.7" y="363.4" width="4.9" height="3.5" fill="#16171a" /><rect x="145.0" y="365.7" width="2.2" height="1.2" fill="#16171a" /><rect x="150.7" y="357.5" width="4.9" height="3.5" fill="#16171a" /><rect x="151.9" y="356.6" width="2.2" height="1.2" fill="#16171a" /><rect x="150.7" y="363.4" width="4.9" height="3.5" fill="#16171a" /><rect x="151.9" y="365.7" width="2.2" height="1.2" fill="#16171a" /><rect x="157.7" y="357.5" width="4.9" height="3.5" fill="#16171a" /><rect x="158.9" y="356.6" width="2.2" height="1.2" fill="#16171a" /><rect x="157.7" y="363.4" width="4.9" height="3.5" fill="#16171a" /><rect x="158.9" y="365.7" width="2.2" height="1.2" fill="#16171a" /><rect x="164.6" y="357.5" width="4.9" height="3.5" fill="#16171a" /><rect x="165.9" y="356.6" width="2.2" height="1.2" fill="#16171a" /><rect x="164.6" y="363.4" width="4.9" height="3.5" fill="#16171a" /><rect x="165.9" y="365.7" width="2.2" height="1.2" fill="#16171a" /><rect x="172.2" y="355.9" width="8.2" height="11.7" fill="#bfc3c9" /><rect x="173.5" y="357.5" width="5.7" height="3.5" fill="#16171a" /><rect x="175.0" y="356.6" width="2.6" height="1.2" fill="#16171a" /><rect x="173.5" y="363.4" width="5.7" height="3.5" fill="#16171a" /><rect x="175.0" y="365.7" width="2.6" height="1.2" fill="#16171a" /><rect x="183.0" y="362.6" width="7.0" height="4.9" fill="#7d818a" /><rect x="184.0" y="363.6" width="5.0" height="3.0" fill="#1b1c20" /><rect x="191.9" y="362.6" width="7.6" height="4.9" fill="#7d818a" /><rect x="192.9" y="363.6" width="5.6" height="3.0" fill="#1b1c20" /></g><g transform="translate(586.6,-1.3)"><polygon points="12.6,342.2 195.6,342.2 207.0,352.0 0.9,352.0" fill="url(#gTopA)" /><path d="M112,346 C124,344 130,350 142,348.5 S154,344.5 164,345.5 S176,349.5 186,347.5" stroke="#4d5058" stroke-width="1.8" fill="none" opacity="0.75"/><path d="M30,346.5 H100" stroke="#33363c" stroke-width="1.2" opacity="0.6"/><rect x="0.9" y="352.0" width="206.1" height="20.4" fill="url(#gFrontA)" /><rect x="0.9" y="352.0" width="206.1" height="18.4" fill="url(#gShine)" /><rect x="0.9" y="352.0" width="206.1" height="1.0" fill="#5d616b" opacity="0.9"/><rect x="6.1" y="355.3" width="17.8" height="2.0" fill="#cfd2d8" /><rect x="6.1" y="360.0" width="12.0" height="0.9" fill="#70747d" /><rect x="6.1" y="362.8" width="15.0" height="0.9" fill="#70747d" /><rect x="6.1" y="365.6" width="11.0" height="0.9" fill="#70747d" /><rect x="20.0" y="365.4" width="3.0" height="1.2" fill="#9a9ea6" /><rect x="32.0" y="356.6" width="12.0" height="0.8" fill="#7a7e87" /><rect x="48.0" y="356.2" width="12.0" height="0.8" fill="#7a7e87" /><rect x="26.0" y="360.2" width="34.0" height="6.2" fill="#3f434c" /><rect x="27.0" y="361.2" width="1.6" height="1.2" fill="#565a63" /><rect x="27.0" y="364.0" width="1.6" height="1.2" fill="#565a63" /><rect x="30.3" y="361.2" width="1.6" height="1.2" fill="#565a63" /><rect x="30.3" y="364.0" width="1.6" height="1.2" fill="#565a63" /><rect x="33.6" y="361.2" width="1.6" height="1.2" fill="#565a63" /><rect x="33.6" y="364.0" width="1.6" height="1.2" fill="#565a63" /><rect x="36.9" y="361.2" width="1.6" height="1.2" fill="#565a63" /><rect x="36.9" y="364.0" width="1.6" height="1.2" fill="#565a63" /><rect x="40.2" y="361.2" width="1.6" height="1.2" fill="#565a63" /><rect x="40.2" y="364.0" width="1.6" height="1.2" fill="#565a63" /><rect x="43.5" y="361.2" width="1.6" height="1.2" fill="#565a63" /><rect x="43.5" y="364.0" width="1.6" height="1.2" fill="#565a63" /><rect x="46.8" y="361.2" width="1.6" height="1.2" fill="#565a63" /><rect x="46.8" y="364.0" width="1.6" height="1.2" fill="#565a63" /><rect x="50.1" y="361.2" width="1.6" height="1.2" fill="#565a63" /><rect x="50.1" y="364.0" width="1.6" height="1.2" fill="#565a63" /><rect x="53.4" y="361.2" width="1.6" height="1.2" fill="#565a63" /><rect x="53.4" y="364.0" width="1.6" height="1.2" fill="#565a63" /><rect x="56.7" y="361.2" width="1.6" height="1.2" fill="#565a63" /><rect x="56.7" y="364.0" width="1.6" height="1.2" fill="#565a63" /><rect x="61.0" y="362.0" width="7.0" height="2.2" fill="#4f535c" /><rect x="66.5" y="363.6" width="2.2" height="1.6" fill="#0e0f11" /><rect x="76.3" y="363.2" width="2.2" height="1.6" fill="#0e0f11" /><rect x="81.0" y="355.9" width="28.9" height="11.7" fill="#bfc3c9" /><rect x="82.2" y="357.5" width="5.1" height="3.5" fill="#16171a" /><rect x="83.5" y="356.6" width="2.3" height="1.2" fill="#16171a" /><rect x="82.2" y="363.4" width="5.1" height="3.5" fill="#16171a" /><rect x="83.5" y="365.7" width="2.3" height="1.2" fill="#16171a" /><rect x="89.4" y="357.5" width="5.1" height="3.5" fill="#16171a" /><rect x="90.7" y="356.6" width="2.3" height="1.2" fill="#16171a" /><rect x="89.4" y="363.4" width="5.1" height="3.5" fill="#16171a" /><rect x="90.7" y="365.7" width="2.3" height="1.2" fill="#16171a" /><rect x="96.6" y="357.5" width="5.1" height="3.5" fill="#16171a" /><rect x="97.9" y="356.6" width="2.3" height="1.2" fill="#16171a" /><rect x="96.6" y="363.4" width="5.1" height="3.5" fill="#16171a" /><rect x="97.9" y="365.7" width="2.3" height="1.2" fill="#16171a" /><rect x="103.8" y="357.5" width="5.1" height="3.5" fill="#16171a" /><rect x="105.1" y="356.6" width="2.3" height="1.2" fill="#16171a" /><rect x="103.8" y="363.4" width="5.1" height="3.5" fill="#16171a" /><rect x="105.1" y="365.7" width="2.3" height="1.2" fill="#16171a" /><rect x="111.6" y="355.9" width="29.4" height="11.7" fill="#bfc3c9" /><rect x="112.8" y="357.5" width="5.1" height="3.5" fill="#16171a" /><rect x="114.1" y="356.6" width="2.4" height="1.2" fill="#16171a" /><rect x="112.8" y="363.4" width="5.1" height="3.5" fill="#16171a" /><rect x="114.1" y="365.7" width="2.4" height="1.2" fill="#16171a" /><rect x="120.1" y="357.5" width="5.1" height="3.5" fill="#16171a" /><rect x="121.4" y="356.6" width="2.4" height="1.2" fill="#16171a" /><rect x="120.1" y="363.4" width="5.1" height="3.5" fill="#16171a" /><rect x="121.4" y="365.7" width="2.4" height="1.2" fill="#16171a" /><rect x="127.5" y="357.5" width="5.1" height="3.5" fill="#16171a" /><rect x="128.8" y="356.6" width="2.4" height="1.2" fill="#16171a" /><rect x="127.5" y="363.4" width="5.1" height="3.5" fill="#16171a" /><rect x="128.8" y="365.7" width="2.4" height="1.2" fill="#16171a" /><rect x="134.8" y="357.5" width="5.1" height="3.5" fill="#16171a" /><rect x="136.1" y="356.6" width="2.4" height="1.2" fill="#16171a" /><rect x="134.8" y="363.4" width="5.1" height="3.5" fill="#16171a" /><rect x="136.1" y="365.7" width="2.4" height="1.2" fill="#16171a" /><rect x="142.6" y="355.9" width="27.9" height="11.7" fill="#bfc3c9" /><rect x="143.7" y="357.5" width="4.9" height="3.5" fill="#16171a" /><rect x="145.0" y="356.6" width="2.2" height="1.2" fill="#16171a" /><rect x="143.7" y="363.4" width="4.9" height="3.5" fill="#16171a" /><rect x="145.0" y="365.7" width="2.2" height="1.2" fill="#16171a" /><rect x="150.7" y="357.5" width="4.9" height="3.5" fill="#16171a" /><rect x="151.9" y="356.6" width="2.2" height="1.2" fill="#16171a" /><rect x="150.7" y="363.4" width="4.9" height="3.5" fill="#16171a" /><rect x="151.9" y="365.7" width="2.2" height="1.2" fill="#16171a" /><rect x="157.7" y="357.5" width="4.9" height="3.5" fill="#16171a" /><rect x="158.9" y="356.6" width="2.2" height="1.2" fill="#16171a" /><rect x="157.7" y="363.4" width="4.9" height="3.5" fill="#16171a" /><rect x="158.9" y="365.7" width="2.2" height="1.2" fill="#16171a" /><rect x="164.6" y="357.5" width="4.9" height="3.5" fill="#16171a" /><rect x="165.9" y="356.6" width="2.2" height="1.2" fill="#16171a" /><rect x="164.6" y="363.4" width="4.9" height="3.5" fill="#16171a" /><rect x="165.9" y="365.7" width="2.2" height="1.2" fill="#16171a" /><rect x="172.2" y="355.9" width="8.2" height="11.7" fill="#bfc3c9" /><rect x="173.5" y="357.5" width="5.7" height="3.5" fill="#16171a" /><rect x="175.0" y="356.6" width="2.6" height="1.2" fill="#16171a" /><rect x="173.5" y="363.4" width="5.7" height="3.5" fill="#16171a" /><rect x="175.0" y="365.7" width="2.6" height="1.2" fill="#16171a" /><rect x="183.0" y="362.6" width="7.0" height="4.9" fill="#7d818a" /><rect x="184.0" y="363.6" width="5.0" height="3.0" fill="#1b1c20" /><rect x="191.9" y="362.6" width="7.6" height="4.9" fill="#7d818a" /><rect x="192.9" y="363.6" width="5.6" height="3.0" fill="#1b1c20" /></g></g>
<g fill="#111"><rect x="41.0" y="373.0" width="2.4" height="1.6" fill="#111" /><rect x="54.0" y="373.0" width="1.2" height="2.0" fill="#111" /><rect x="58.0" y="373.0" width="1.6" height="2.0" fill="#111" /><rect x="61.0" y="373.0" width="1.0" height="1.6" fill="#111" /><rect x="74.0" y="373.0" width="1.6" height="2.0" fill="#111" /><rect x="78.0" y="373.4" width="3.0" height="1.0" fill="#111" /><rect x="83.0" y="373.0" width="1.4" height="1.6" fill="#111" /></g>

<!-- department: marketing -->
<rect x="5.1" y="406.9" width="195.6" height="151.7" rx="5.0" fill="#fff" stroke="#b0b0b0" stroke-width="1"/><path d="M3.5,536.2 H199.2 V553.9 Q199.2,558.9 194.2,558.9 H8.5 Q3.5,558.9 3.5,553.9 Z" fill="#516997"/><rect x="30.0" y="490.0" width="1.0" height="1.0" fill="#fff" /><g transform="translate(9.5,484.0) scale(1.010,1.000)"><use href="#ap"/></g><g transform="translate(119.5,482.0) scale(1.090,1.100)"><use href="#ap"/></g><circle cx="91.8" cy="497.0" r="3.35" fill="#000"/><circle cx="101.2" cy="497.0" r="3.35" fill="#000"/><circle cx="110.8" cy="497.0" r="3.35" fill="#000"/><text class="cjk" x="2.4" y="531.0">无线</text><text class="ap" transform="translate(40.0,531.0) scale(0.8,1)">AP</text><text class="cjk w" x="73.6" y="553.6">市场部</text><g transform="translate(0.0,0.0)"><g stroke="#4171c4" stroke-width="2.8" fill="none"><path d="M103.7,395.2 V431.5"/><path d="M49.3,430.5 H164.2"/><path d="M43.9,433.1 V467.6"/><path d="M166.5,433.1 V467.6"/></g><g stroke="#e3202b" stroke-width="1.5" fill="none"><path d="M106.6,396.8 V431.5" stroke-dasharray="4.6 2.5"/><path d="M46.0,433.4 H164.2" stroke-dasharray="6.6 3"/><path d="M46.9,433.9 V467.1" stroke-dasharray="4.6 2.5"/><path d="M169.5,433.9 V467.1" stroke-dasharray="4.6 2.5"/></g></g>
<!-- department: sales -->
<g transform="translate(0.0,0.0)"><rect x="300.6" y="411.6" width="195.8" height="151.0" rx="6.0" fill="#fff" stroke="#b0b0b0" stroke-width="1"/><path d="M299.8,540.2 H497.0 V556.9 Q497.0,562.9 491.0,562.9 H305.8 Q299.8,562.9 299.8,556.9 Z" fill="#516997"/><rect x="299.0" y="489.5" width="70.0" height="29.0" fill="#fff" /><g transform="translate(300.0,488.5) scale(1.000,1.000)"><use href="#ap"/></g><g transform="translate(418.5,487.5) scale(1.000,1.040)"><use href="#ap"/></g><circle cx="384.4" cy="500.4" r="3.35" fill="#000"/><circle cx="394.2" cy="500.4" r="3.35" fill="#000"/><circle cx="404.2" cy="500.4" r="3.35" fill="#000"/><text class="cjk" x="300.8" y="535.6">无线</text><text class="ap" transform="translate(338.4,535.6) scale(0.8,1)">AP</text><text class="cjk w" x="368.2" y="557.6">销售部</text><g transform="translate(0.0,0.0)"><g stroke="#4171c4" stroke-width="2.8" fill="none"><path d="M391.8,398.4 V436.9"/><path d="M336.3,435.9 H458.0"/><path d="M329.9,438.5 V473.4"/><path d="M460.3,438.5 V473.4"/></g><g stroke="#e3202b" stroke-width="1.5" fill="none"><path d="M394.7,400.0 V436.9" stroke-dasharray="4.6 2.5"/><path d="M336.3,438.8 H458.0" stroke-dasharray="6.6 3"/><path d="M332.9,439.3 V472.9" stroke-dasharray="4.6 2.5"/><path d="M463.3,439.3 V472.9" stroke-dasharray="4.6 2.5"/></g></g></g>
<!-- department: conference hall -->
<g transform="translate(298.7,-0.9)"><rect x="300.6" y="411.6" width="195.8" height="151.0" rx="6.0" fill="#fff" stroke="#b0b0b0" stroke-width="1"/><path d="M299.8,540.2 H497.0 V556.9 Q497.0,562.9 491.0,562.9 H305.8 Q299.8,562.9 299.8,556.9 Z" fill="#516997"/><rect x="299.0" y="489.5" width="70.0" height="29.0" fill="#fff" /><g transform="translate(300.0,488.5) scale(1.000,1.000)"><use href="#ap"/></g><g transform="translate(418.5,487.5) scale(1.000,1.040)"><use href="#ap"/></g><circle cx="384.4" cy="500.4" r="3.35" fill="#000"/><circle cx="394.2" cy="500.4" r="3.35" fill="#000"/><circle cx="404.2" cy="500.4" r="3.35" fill="#000"/><text class="cjk" x="300.4" y="535.6">无线</text><text class="ap" transform="translate(338.0,535.6) scale(0.8,1)">AP</text><text class="cjk w" x="367.6" y="557.6">会议厅</text><g transform="translate(0.0,0.0)"><g stroke="#4171c4" stroke-width="2.8" fill="none"><path d="M391.8,398.4 V436.9"/><path d="M336.3,435.9 H458.0"/><path d="M329.9,438.5 V473.4"/><path d="M460.3,438.5 V473.4"/></g><g stroke="#e3202b" stroke-width="1.5" fill="none"><path d="M394.7,400.0 V436.9" stroke-dasharray="4.6 2.5"/><path d="M336.3,438.8 H458.0" stroke-dasharray="6.6 3"/><path d="M332.9,439.3 V472.9" stroke-dasharray="4.6 2.5"/><path d="M463.3,439.3 V472.9" stroke-dasharray="4.6 2.5"/></g></g></g>
</svg>
</body>
</html>
